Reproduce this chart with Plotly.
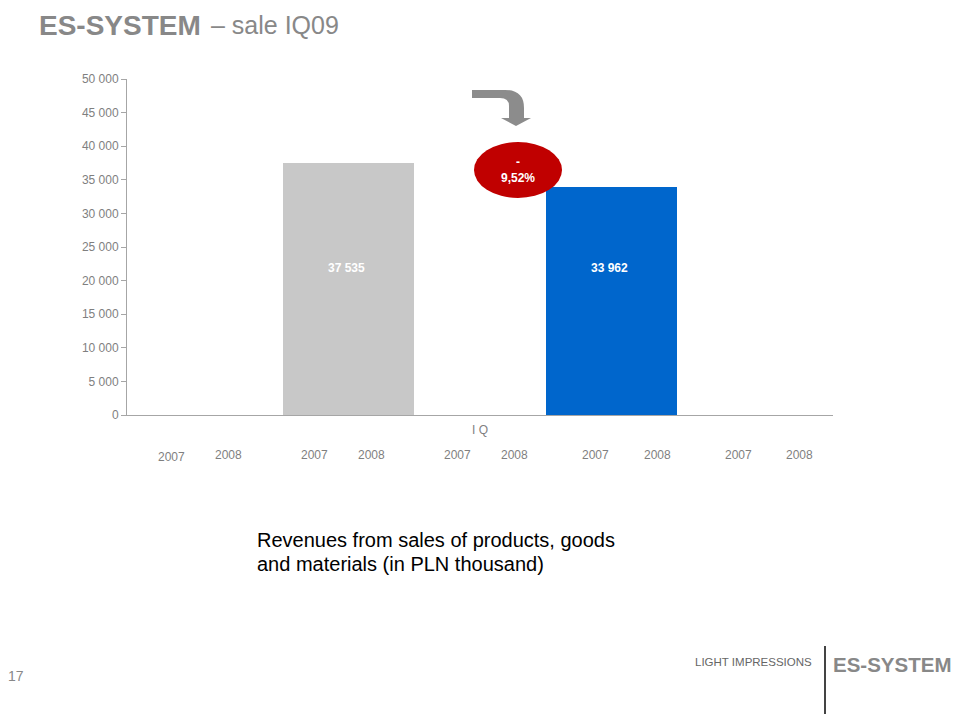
import plotly.graph_objects as go

# ---- data ----
periods = ["IQ 2008", "IQ 2009"]
revenues = [37535, 33962]
bar_colors = ["#C8C8C8", "#0066CC"]
group_label = "I Q"
year_labels = ["2007", "2008", "2007", "2008", "2007", "2008", "2007", "2008", "2007", "2008"]
change_label = "-<br>9,52%"
description_lines = ["Revenues from sales of products, goods", "and materials (in PLN thousand)"]

# page body has an 8px margin: the figure is shrunk so it ends at the window edge
OFF = 8
WIN_W, WIN_H = 959, 714
W, H = WIN_W - OFF, WIN_H - OFF
PL, PR, PT, PB = 127, 833, 79, 415  # plot area in window pixels


def px(x):
    return (x - PL) / (PR - PL)


def py(y):
    return (PB - y) / (PB - PT)


xs = list(range(len(periods)))

fig = go.Figure()
fig.add_trace(go.Bar(
    x=xs, y=revenues, marker_color=bar_colors, width=0.5,
    marker_line_width=0, showlegend=False, hoverinfo="skip"
))

font_main = "Liberation Sans, Arial, sans-serif"
gray_txt = "#7F7F7F"

annotations = []
# value labels inside bars
for i, v in enumerate(revenues):
    annotations.append(dict(
        x=xs[i], y=21900, xref="x", yref="y", xshift=-2,
        text="<b>" + f"{v:,}".replace(",", " ") + "</b>", showarrow=False,
        font=dict(family=font_main, size=12, color="white"),
    ))

# year labels below the axis
year_px = [171, 228, 314, 371, 457, 514, 595, 657, 738, 799]
year_py = [457, 455, 455, 455, 455, 455, 455, 455, 455, 455]
for lbl, xp, yp in zip(year_labels, year_px, year_py):
    annotations.append(dict(
        x=px(xp), y=py(yp), xref="paper", yref="paper", text=lbl,
        showarrow=False, font=dict(family=font_main, size=12, color=gray_txt),
        xanchor="center", yanchor="middle"
    ))

# change ellipse text
annotations.append(dict(
    x=px(518), y=py(170), xref="paper", yref="paper", text="<b>" + change_label + "</b>",
    showarrow=False, font=dict(family=font_main, size=12, color="white"),
    xanchor="center", yanchor="middle"
))

# title
annotations.append(dict(
    x=px(37), y=py(8), xref="paper", yref="paper",
    text="<b>ES-SYSTEM</b>", showarrow=False,
    font=dict(family=font_main, size=28, color="#888888"),
    xanchor="left", yanchor="top"
))
annotations.append(dict(
    x=px(209), y=py(9), xref="paper", yref="paper",
    text="– sale IQ09", showarrow=False,
    font=dict(family=font_main, size=25, color="#888888"),
    xanchor="left", yanchor="top"
))

# description
for k, line in enumerate(description_lines):
    annotations.append(dict(
        x=px(255), y=py(540 + 24 * k), xref="paper", yref="paper",
        text=line, showarrow=False, align="left",
        font=dict(family=font_main, size=20, color="#000000"),
        xanchor="left", yanchor="middle"
    ))

# footer
annotations.append(dict(
    x=px(814), y=py(662), xref="paper", yref="paper", text="LIGHT IMPRESSIONS",
    showarrow=False, font=dict(family=font_main, size=11.5, color="#666666"),
    xanchor="right", yanchor="middle"
))
annotations.append(dict(
    x=px(831), y=py(664), xref="paper", yref="paper", text="<b>ES-SYSTEM</b>",
    showarrow=False, font=dict(family=font_main, size=20.5, color="#888888"),
    xanchor="left", yanchor="middle"
))
annotations.append(dict(
    x=px(6), y=py(676), xref="paper", yref="paper", text="17",
    showarrow=False, font=dict(family=font_main, size=14, color="#888888"),
    xanchor="left", yanchor="middle"
))


def P(x, y):
    return f"{px(x):.5f},{py(y):.5f}"


arrow_path = (
    f"M{P(472,90)} L{P(505,90)} Q{P(524,90)} {P(524,108)} L{P(524,118)} "
    f"L{P(531,118)} L{P(516,126)} L{P(501,118)} L{P(509,118)} L{P(509,106)} "
    f"Q{P(509,98)} {P(500,98)} L{P(472,98)} Z"
)

shapes = [
    dict(type="path", xref="paper", yref="paper", path=arrow_path,
         fillcolor="#8C8C8C", line=dict(width=0)),
    dict(type="circle", xref="paper", yref="paper",
         x0=px(474), x1=px(562), y0=py(198), y1=py(142),
         fillcolor="#C00000", line=dict(width=0)),
    dict(type="line", xref="paper", yref="paper",
         x0=px(825), x1=px(825), y0=py(646), y1=py(716),
         line=dict(color="#444444", width=2)),
]

fig.update_layout(
    width=W, height=H,
    margin=dict(l=PL - OFF, r=WIN_W - PR, t=PT - OFF, b=WIN_H - PB, pad=0),
    plot_bgcolor="white", paper_bgcolor="white",
    separators=", ",
    font=dict(family=font_main, size=12, color=gray_txt),
    xaxis=dict(
        range=[-0.845, 1.845], tickvals=[0.5], ticktext=[group_label],
        showgrid=False, zeroline=False, showline=True, linecolor="#A6A6A6",
        linewidth=1, ticks="", ticklabelstandoff=4, tickfont=dict(size=12, color=gray_txt),
    ),
    yaxis=dict(
        range=[0, 50000], tickvals=list(range(0, 50001, 5000)), tickformat=",d",
        showgrid=False, zeroline=False, showline=True, linecolor="#A6A6A6",
        linewidth=1, ticks="outside", ticklen=5, tickcolor="#A6A6A6",
        tickfont=dict(size=12, color=gray_txt),
    ),
    annotations=annotations,
    shapes=shapes,
    bargap=0,
)

fig.write_html("out.html")
